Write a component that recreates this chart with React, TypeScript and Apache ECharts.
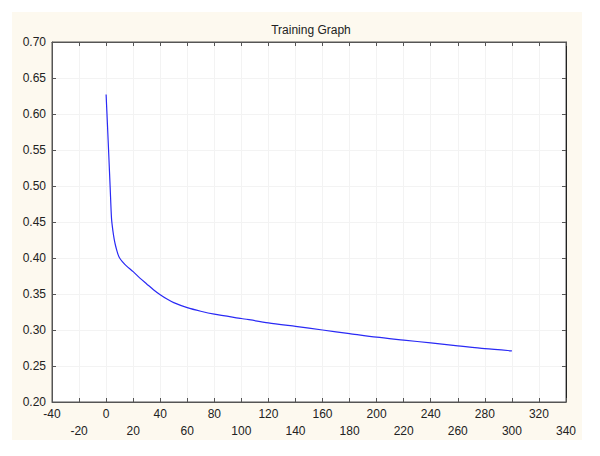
import React, { useEffect, useRef } from "react";
import * as echarts from "echarts";

const title = "Training Graph";
const epochs = [0, 1, 2, 3, 4, 5, 6, 7, 8, 9, 10, 12, 15, 20, 25, 30, 35, 40, 45, 50, 60, 70, 80, 100, 120, 140, 160, 180, 200, 220, 240, 260, 280, 300];
const loss = [0.627, 0.585, 0.542, 0.498, 0.455, 0.438, 0.426, 0.417, 0.410, 0.404, 0.400, 0.395, 0.389, 0.381, 0.372, 0.364, 0.356, 0.349, 0.343, 0.338, 0.331, 0.326, 0.322, 0.316, 0.310, 0.305, 0.300, 0.295, 0.290, 0.286, 0.282, 0.278, 0.274, 0.271];
const xMin = -40;
const xMax = 340;
const xStep = 20;
const yMin = 0.2;
const yMax = 0.7;
const yStep = 0.05;

export default function App() {
  const ref = useRef<HTMLDivElement>(null);
  useEffect(() => {
    document.body.style.margin = "0";
    const chart = echarts.init(ref.current!, null, { renderer: "svg" });
    const font = "Liberation Sans, Arial, sans-serif";
    const splitColor = "#f3f3f3";
    const axisColor = "#555";
    const data = epochs.map((e, i) => [e, loss[i]]);
    chart.setOption({
      animation: false,
      backgroundColor: "#ffffff",
      title: {
        text: title,
        left: 306,
        textAlign: "center",
        top: 19,
        textStyle: { fontFamily: font, fontSize: 12, fontWeight: "normal", color: "#222" },
      },
      graphic: [
        {
          type: "rect",
          z: -10,
          silent: true,
          shape: { x: 12, y: 12, width: 570, height: 428 },
          style: { fill: "#fdf9ef" },
        },
      ],
      grid: {
        left: 52,
        right: 34,
        top: 42,
        bottom: 54,
        show: true,
        backgroundColor: "#ffffff",
        borderColor: axisColor,
        borderWidth: 1,
      },
      xAxis: [
        {
          type: "value",
          min: xMin,
          max: xMax,
          interval: xStep,
          position: "bottom",
          axisLine: { show: true, onZero: false, lineStyle: { color: axisColor } },
          axisTick: { show: true, inside: true, length: 4, lineStyle: { color: axisColor } },
          splitLine: { show: true, lineStyle: { color: splitColor } },
          axisLabel: {
            fontFamily: font,
            fontSize: 12,
            color: "#222",
            margin: 3,
            lineHeight: 17,
            formatter: (v: number) => {
              const idx = Math.round((v - xMin) / xStep);
              return idx % 2 === 1 ? "\n" + v : String(v);
            },
          },
        },
        {
          type: "value",
          min: xMin,
          max: xMax,
          interval: xStep,
          position: "top",
          axisLine: { show: true, onZero: false, lineStyle: { color: axisColor } },
          axisTick: { show: true, inside: true, length: 4, lineStyle: { color: axisColor } },
          splitLine: { show: false },
          axisLabel: { show: false },
        },
      ],
      yAxis: [
        {
          type: "value",
          min: yMin,
          max: yMax,
          interval: yStep,
          position: "left",
          axisLine: { show: true, onZero: false, lineStyle: { color: axisColor } },
          axisTick: { show: true, inside: true, length: 4, lineStyle: { color: axisColor } },
          splitLine: { show: true, lineStyle: { color: splitColor } },
          axisLabel: {
            fontFamily: font,
            fontSize: 12,
            color: "#222",
            margin: 6,
            formatter: (v: number) => v.toFixed(2),
          },
        },
        {
          type: "value",
          min: yMin,
          max: yMax,
          interval: yStep,
          position: "right",
          axisLine: { show: true, onZero: false, lineStyle: { color: "#222" } },
          axisTick: { show: true, inside: true, length: 4, lineStyle: { color: axisColor } },
          splitLine: { show: false },
          axisLabel: { show: false },
        },
      ],
      series: [
        {
          type: "line",
          data,
          smooth: 0.25,
          showSymbol: false,
          symbol: "none",
          lineStyle: { color: "#2a2af5", width: 1.2 },
          xAxisIndex: 0,
          yAxisIndex: 0,
        },
      ],
    });
    return () => chart.dispose();
  }, []);
  return <div ref={ref} style={{ width: 600, height: 456 }} />;
}
